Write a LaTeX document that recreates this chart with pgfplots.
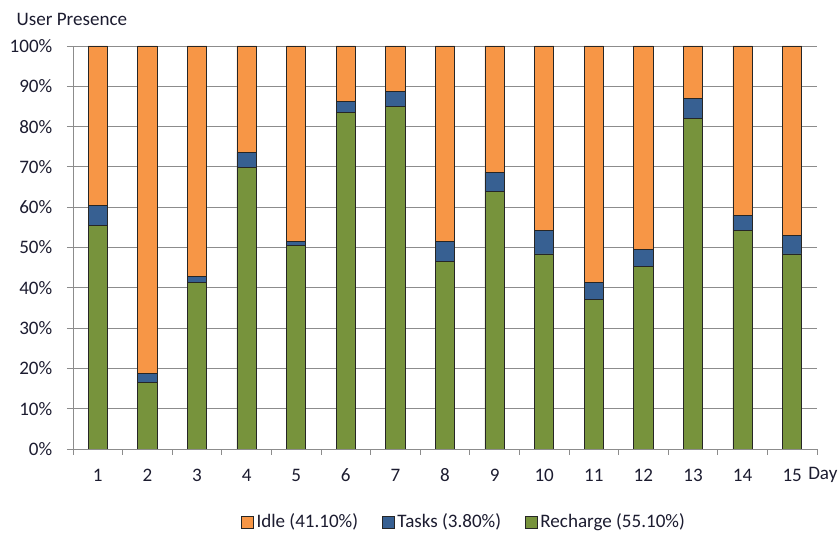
\documentclass[border=0pt]{standalone}
\usepackage{pgfplots}
\usepackage{pgfplotstable}
\pgfplotsset{compat=1.18}
\usepackage{fontspec}
\setmainfont{Carlito}
\definecolor{idle}{HTML}{F79646}
\definecolor{tasks}{HTML}{376092}
\definecolor{recharge}{HTML}{77933C}
\definecolor{gridc}{HTML}{8C8C8C}
\definecolor{txt}{HTML}{1C1C30}
\newcommand\cf{\fontsize{14.3}{17}\selectfont}

% day, recharge, tasks, idle (percent of the day)
\pgfplotstableread{
day recharge tasks idle
1  55.4 5.0 39.6
2  16.5 2.3 81.2
3  41.4 1.4 57.2
4  69.9 3.7 26.4
5  50.5 1.1 48.4
6  83.6 2.6 13.8
7  84.9 3.9 11.2
8  46.6 5.0 48.4
9  64.0 4.7 31.3
10 48.4 5.9 45.7
11 37.0 4.4 58.6
12 45.2 4.4 50.4
13 82.1 4.9 13.0
14 54.2 3.8 42.0
15 48.4 4.6 47.0
}\presence

\begin{document}
\begin{tikzpicture}
\useasboundingbox (0,0) rectangle (630pt,402pt);
\begin{axis}[
  anchor=north west, at={(54.75pt,367.5pt)},
  width=558pt, height=302.25pt, scale only axis,
  ybar stacked, bar width=14.5pt,
  xmin=0.5, xmax=15.5, ymin=0, ymax=100,
  xtick={0.5,1.5,...,15.5}, xticklabels=\empty,
  extra x ticks={1,...,15},
  extra x tick labels={1,2,3,4,5,6,7,8,9,10,11,12,13,14,15},
  extra x tick style={major tick length=0pt,
    tick label style={anchor=center, yshift=-19.5pt}},
  ytick={0,10,...,100},
  yticklabels={0\%,10\%,20\%,30\%,40\%,50\%,60\%,70\%,80\%,90\%,100\%},
  yticklabel style={xshift=-7.5pt},
  axis x line*=bottom, axis y line*=left,
  axis line style={-, gridc, line width=0.7pt},
  tick align=outside, major tick length=4.5pt,
  tick style={gridc, line width=0.7pt},
  ymajorgrids, major grid style={gridc, line width=0.7pt},
  tick label style={font=\cf, text=txt},
  /pgf/number format/assume math mode=true,
  every axis plot/.append style={draw=black!85, line width=0.6pt},
  reverse legend,
  legend style={at={(0.526,-0.181)}, anchor=center, legend columns=3,
    draw=none, font=\cf, text=txt,
    /tikz/every even column/.append style={column sep=16pt}},
  legend image code/.code={\draw[#1, draw=black!85, line width=0.5pt] (0pt,-4.5pt) rectangle (9pt,4.5pt);},
]
\addplot[fill=recharge] table[x=day, y=recharge] {\presence};
\addlegendentry{Recharge (55.10\%)}
\addplot[fill=tasks] table[x=day, y=tasks] {\presence};
\addlegendentry{Tasks (3.80\%)}
\addplot[fill=idle] table[x=day, y=idle] {\presence};
\addlegendentry{Idle (41.10\%)}
\end{axis}
\node[anchor=base west, font=\cf, text=txt] at (9pt,382.5pt) {User Presence};
\node[anchor=west, font=\cf, text=txt, inner sep=0pt] at (606pt,45.75pt) {Day};
\end{tikzpicture}
\end{document}
